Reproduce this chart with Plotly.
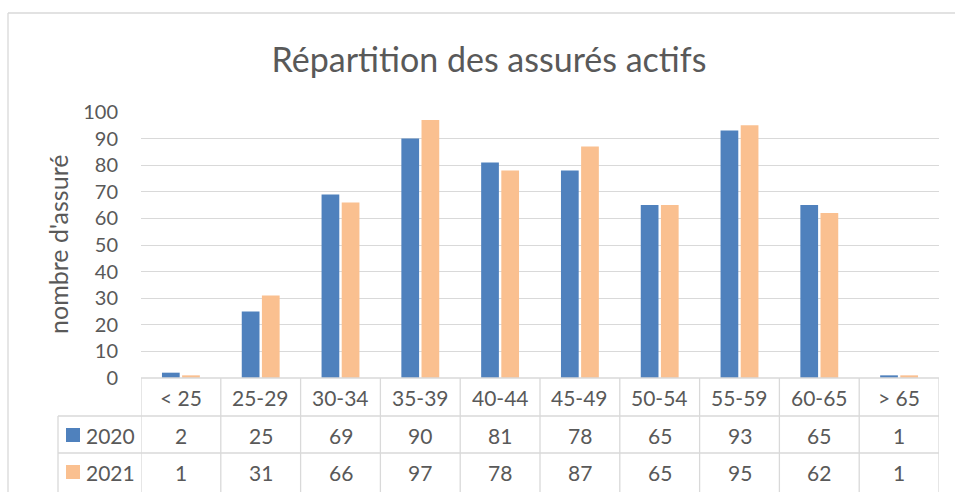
import plotly.graph_objects as go

categories = ["< 25", "25-29", "30-34", "35-39", "40-44", "45-49", "50-54", "55-59", "60-65", "> 65"]
series_names = ["2020", "2021"]
values_2020 = [2, 25, 69, 90, 81, 78, 65, 93, 65, 1]
values_2021 = [1, 31, 66, 97, 78, 87, 65, 95, 62, 1]
y_ticks = [0, 10, 20, 30, 40, 50, 60, 70, 80, 90, 100]
title_text = "Répartition des assurés actifs"
y_title = "nombre d'assuré"

colors = ["#4F81BD", "#FAC090"]
text_color = "#595959"
grid_color = "#D9D9D9"
FONT = "Lato"

W, H = 955, 492
ML, MR, MT, MB = 141, 16, 112, 114
plot_h = H - MT - MB
plot_w = W - ML - MR

def py(pix):  # pixel y -> paper y
    return (H - MB - pix) / plot_h

def px(pix):  # pixel x -> paper x
    return (pix - ML) / plot_w

fig = go.Figure()
all_vals = [values_2020, values_2021]
for name, vals, col in zip(series_names, all_vals, colors):
    fig.add_trace(go.Bar(x=categories, y=vals, name=name, marker=dict(color=col, line=dict(width=0))))

shapes = []
annotations = []
line_style = dict(color=grid_color, width=1.3)

row_lines = [py(416), py(453)]
bottom = py(495)
left_col = px(58)

# header top line
shapes.append(dict(type="line", xref="paper", yref="paper", x0=0, x1=1, y0=0, y1=0, line=line_style))
for yl in row_lines:
    shapes.append(dict(type="line", xref="paper", yref="paper", x0=left_col, x1=1, y0=yl, y1=yl, line=line_style))
for k in range(len(categories) + 1):
    xv = -0.5 + k
    shapes.append(dict(type="line", xref="x", yref="paper", x0=xv, x1=xv, y0=0, y1=bottom, line=line_style))
shapes.append(dict(type="line", xref="paper", yref="paper", x0=left_col, x1=left_col, y0=row_lines[0], y1=bottom, line=line_style))

# outer chart frame (left and top edges)
frame_x = px(8)
frame_y = py(13)
shapes.append(dict(type="line", xref="paper", yref="paper", x0=frame_x, x1=frame_x, y0=bottom, y1=frame_y, line=line_style))
shapes.append(dict(type="line", xref="paper", yref="paper", x0=frame_x, x1=1.1, y0=frame_y, y1=frame_y, line=line_style))

cell_font = dict(family=FONT, size=21, color=text_color)
header_y = py(397)
row_ys = [py(435), py(472)]
for i, c in enumerate(categories):
    annotations.append(dict(x=i, y=header_y, xref="x", yref="paper", text=c, showarrow=False, font=cell_font, xanchor="center", yanchor="middle"))
    for r, vals in enumerate(all_vals):
        annotations.append(dict(x=i, y=row_ys[r], xref="x", yref="paper", text=str(vals[i]), showarrow=False, font=cell_font, xanchor="center", yanchor="middle"))

for r, (name, col) in enumerate(zip(series_names, colors)):
    cy = row_ys[r]
    shapes.append(dict(type="rect", xref="paper", yref="paper", x0=px(66), x1=px(80), y0=cy - 7 / plot_h, y1=cy + 7 / plot_h, fillcolor=col, line=dict(width=0)))
    annotations.append(dict(x=px(84), y=cy, xref="paper", yref="paper", text=name, showarrow=False, font=cell_font, xanchor="left", yanchor="middle"))

annotations.append(dict(x=px(58), y=py(245), xref="paper", yref="paper", text=y_title, textangle=-90, showarrow=False,
                        font=dict(family=FONT, size=25, color=text_color), xanchor="center", yanchor="middle"))

fig.update_layout(
    width=W, height=H,
    margin=dict(l=ML, r=MR, t=MT, b=MB, pad=0),
    paper_bgcolor="white", plot_bgcolor="white",
    barmode="group", bargap=0.495, bargroupgap=0.12,
    showlegend=False,
    title=dict(text=title_text, x=489 / W, xanchor="center", xref="container", y=1 - 60 / H, yanchor="middle", yref="container",
               font=dict(family=FONT, size=34, color=text_color)),
    xaxis=dict(showticklabels=False, showgrid=False, zeroline=False, showline=False, ticks="", range=[-0.5, len(categories) - 0.5]),
    yaxis=dict(range=[0, 100], tickvals=y_ticks, showgrid=True, gridcolor=grid_color, gridwidth=1.3, zeroline=False, showline=False,
               ticks="", ticklabelstandoff=22, tickfont=dict(family=FONT, size=20, color=text_color)),
    shapes=shapes, annotations=annotations,
)

fig.write_html("out.html", config={"displayModeBar": False},
               post_script="document.body.style.margin='0';document.body.style.overflow='hidden';")
